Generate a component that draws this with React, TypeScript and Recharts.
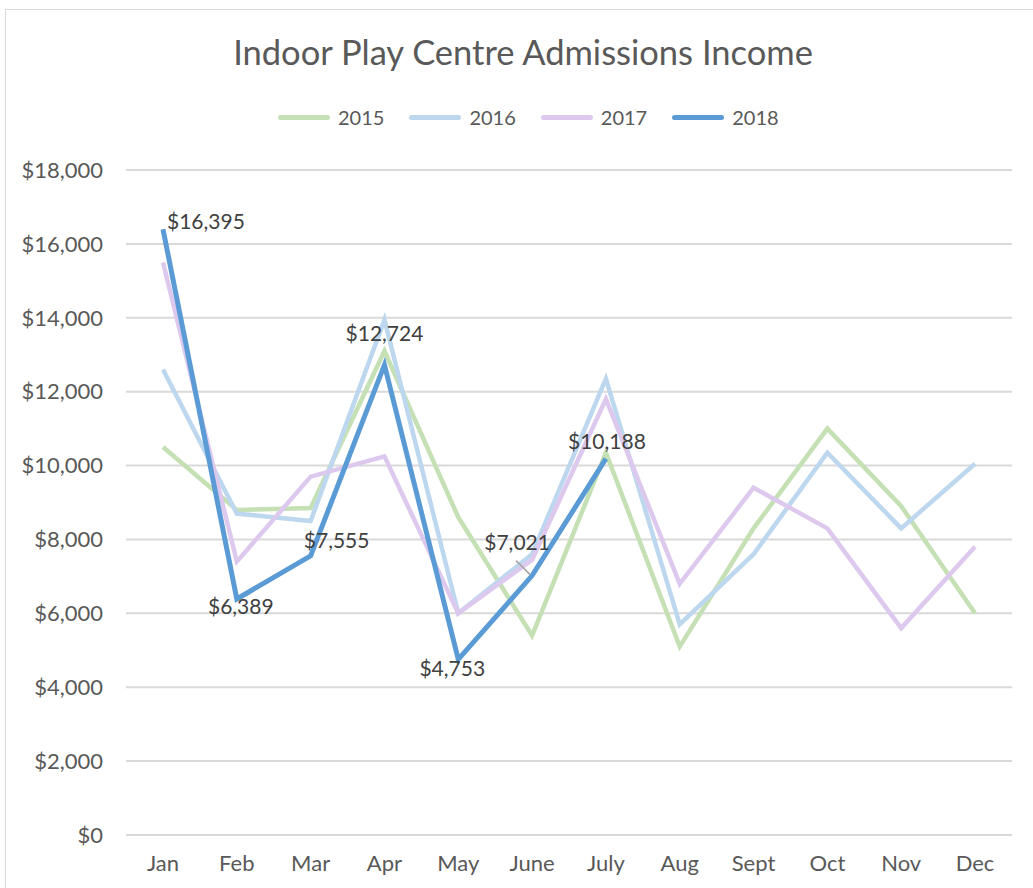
import React from 'react';
import { LineChart, Line, XAxis, YAxis, CartesianGrid } from 'recharts';

const months = ['Jan', 'Feb', 'Mar', 'Apr', 'May', 'June', 'July', 'Aug', 'Sept', 'Oct', 'Nov', 'Dec'];
const y2015 = [10500, 8800, 8850, 13100, 8600, 5400, 10350, 5100, 8300, 11000, 8900, 6000];
const y2016 = [12600, 8700, 8500, 13950, 6000, 7600, 12350, 5700, 7600, 10350, 8300, 10050];
const y2017 = [15500, 7400, 9700, 10250, 6000, 7450, 11800, 6800, 9400, 8300, 5600, 7800];
const y2018: (number | null)[] = [16395, 6389, 7555, 12724, 4753, 7021, 10188, null, null, null, null, null];
const yTicks = [0, 2000, 4000, 6000, 8000, 10000, 12000, 14000, 16000, 18000];

const data = months.map((m, i) => ({
  month: m,
  s2015: y2015[i],
  s2016: y2016[i],
  s2017: y2017[i],
  s2018: y2018[i],
}));

const FONT = 'Lato, "Open Sans", sans-serif';
const fmt = (v: number) => '$' + v.toLocaleString('en-US');

// label offsets relative to each 2018 point
const labelOffsets: [number, number, 'start' | 'middle'][] = [
  [4, -9, 'start'],
  [4, 7, 'middle'],
  [26, -16, 'middle'],
  [0, -32, 'middle'],
  [-6, 8, 'middle'],
  [-15, -34, 'middle'],
  [1, -18, 'middle'],
];

const DataLabel = (props: any) => {
  const { x, y, value, index } = props;
  if (value == null || x == null || y == null) return null;
  const off = labelOffsets[index] || [0, -15, 'middle'];
  return (
    <g>
      {index === 5 && (
        <line x1={x - 16} y1={y - 15} x2={x - 2} y2={y - 1} stroke="#a6a6a6" strokeWidth={1.5} />
      )}
      <text
        x={x + off[0]}
        y={y + off[1]}
        textAnchor={off[2]}
        dominantBaseline="central"
        fill="#404040"
        fontSize={21}
        fontFamily={FONT}
      >
        {fmt(value)}
      </text>
    </g>
  );
};

const legendItems = [
  { name: '2015', color: '#C5E0B4' },
  { name: '2016', color: '#BDD7EE' },
  { name: '2017', color: '#DDC9EE' },
  { name: '2018', color: '#5B9BD5' },
];

const LegendContent = () => (
  <div
    style={{
      position: 'absolute',
      left: 278,
      top: 105,
      display: 'flex',
      fontFamily: FONT,
      fontSize: 20,
      color: '#595959',
    }}
  >
    {legendItems.map((it, i) => (
      <div key={it.name} style={{ display: 'flex', alignItems: 'center', marginRight: i < 3 ? 25 : 0 }}>
        <div style={{ width: 52, height: 5, borderRadius: 3, background: it.color, marginRight: 8 }} />
        <span>{it.name}</span>
      </div>
    ))}
  </div>
);

export default function App() {
  return (
    <div style={{ position: 'absolute', left: 0, top: 0, width: 1033, height: 888, background: '#fff', overflow: 'hidden' }}>
      <div
        style={{
          position: 'absolute',
          left: 5,
          top: 9,
          width: 1040,
          height: 900,
          border: '1.5px solid #d9d9d9',
        }}
      />
      <div
        style={{
          position: 'absolute',
          left: 0,
          top: 31,
          width: 1046,
          textAlign: 'center',
          fontFamily: FONT,
          fontSize: 34.5,
          color: '#595959',
        }}
      >
        Indoor Play Centre Admissions Income
      </div>
      <LegendContent />
      <LineChart
        width={1033}
        height={888}
        data={data}
        margin={{ top: 170, right: 21, bottom: 23, left: 16 }}
        style={{ position: 'absolute', left: 0, top: 0 }}
      >
        <CartesianGrid vertical={false} stroke="#d9d9d9" strokeWidth={2} />
        <XAxis
          dataKey="month"
          padding={{ left: 37, right: 37 }}
          tickLine={false}
          axisLine={{ stroke: '#d9d9d9', strokeWidth: 2 }}
          tick={{ fill: '#595959', fontSize: 22, fontFamily: FONT }}
          tickSize={0}
          tickMargin={20}
          height={30}
          interval={0}
        />
        <YAxis
          width={110}
          domain={[0, 18000]}
          ticks={yTicks}
          tickFormatter={fmt}
          axisLine={false}
          tickLine={false}
          tickSize={0}
          tickMargin={23}
          tick={{ fill: '#595959', fontSize: 22, fontFamily: FONT }}
        />
        <Line type="linear" dataKey="s2015" name="2015" stroke="#C5E0B4" strokeWidth={4.5} dot={false} isAnimationActive={false} />
        <Line type="linear" dataKey="s2016" name="2016" stroke="#BDD7EE" strokeWidth={4.5} dot={false} isAnimationActive={false} />
        <Line type="linear" dataKey="s2017" name="2017" stroke="#DDC9EE" strokeWidth={4.5} dot={false} isAnimationActive={false} />
        <Line
          type="linear"
          dataKey="s2018"
          name="2018"
          stroke="#5B9BD5"
          strokeWidth={5}
          dot={false}
          isAnimationActive={false}
          label={<DataLabel />}
        />
      </LineChart>
    </div>
  );
}
